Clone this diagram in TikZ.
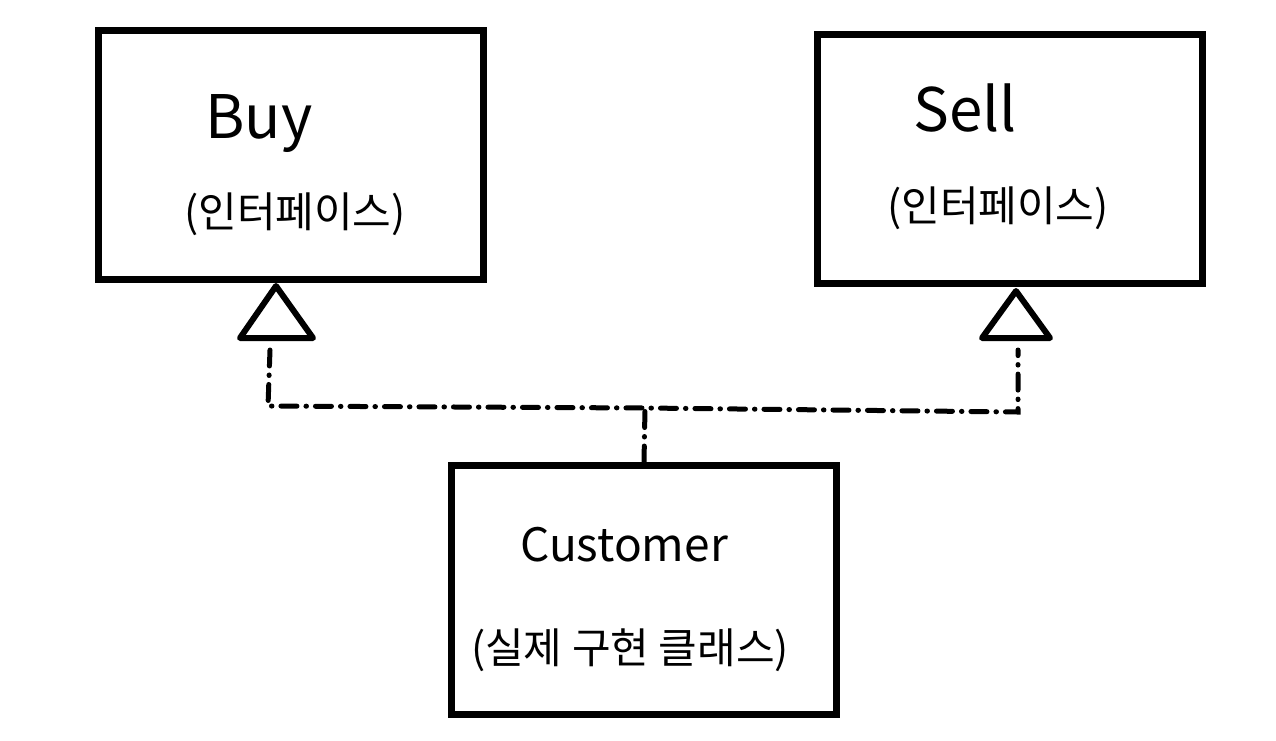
\documentclass[tikz,border=0pt]{standalone}
\usepackage{fontspec}
\setmainfont{Noto Sans CJK KR}
\begin{document}
\begin{tikzpicture}[x=1pt,y=-1pt,
  box/.style={draw,line width=7pt,minimum width=385pt,minimum height=249pt,inner sep=0pt},
  tri/.style={draw,line width=6pt,line join=round,fill=white},
  title/.style={font=\fontsize{46}{50}\selectfont},
  big/.style={font=\fontsize{60}{64}\selectfont},
  sub/.style={font=\fontsize{42}{46}\selectfont},
  dd/.style={line width=5pt,line cap=round,dash pattern=on 16pt off 9pt on 0.5pt off 9pt}]
\useasboundingbox (0,0) rectangle (1276,740);
\fill[white] (0,0) rectangle (1276,740);
% boxes
\node[box] (buy) at (291,154.5) {};
\node[box] (sell) at (1009.5,158.5) {};
\node[box] (cust) at (644,590) {};
% texts
\node[big] (buyt) at (259,124) {Buy};
\node[sub] (buys) at (295,214) {(인터페이스)};
\node[big] (sellt) at (965,108) {Sell};
\node[sub] (sells) at (998,208) {(인터페이스)};
\node[title] (custt) at (624,545) {Customer};
\node[sub] (custs) at (630,650) {(실제 구현 클래스)};
% triangles
\coordinate (ba) at (276,286);
\coordinate (bl) at (240,338);
\coordinate (br) at (313,338);
\coordinate (bm) at (270,350);
\draw[tri] (ba) -- (br) -- (bl) -- cycle;
\coordinate (sa) at (1016,291);
\coordinate (sl) at (982,338);
\coordinate (sr) at (1050,338);
\coordinate (sm) at (1018,350);
\draw[tri] (sa) -- (sr) -- (sl) -- cycle;
% connectors
\coordinate (lc) at (268,406);
\coordinate (rc) at (1018,412);
\coordinate (mc) at (645,408);
\draw[dd] (bm) -- (lc) -- (mc) -- (rc) -- (sm);
\draw[dd] (cust.north) -- (mc);
\end{tikzpicture}
\end{document}
